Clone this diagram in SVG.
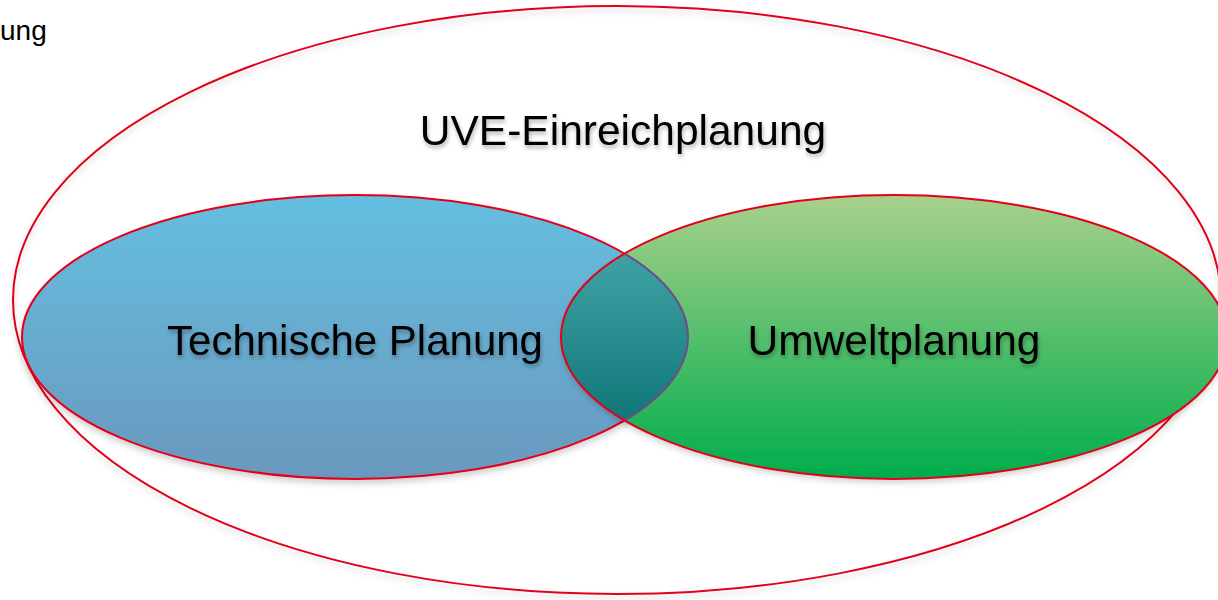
<svg xmlns="http://www.w3.org/2000/svg" width="1218" height="600" viewBox="0 0 1218 600">
<style>
.lbl{font-family:"Liberation Sans",Arial,sans-serif;fill:#000;filter:url(#tsh)}
.red{fill:none;stroke:#E2001A;stroke-width:2}
</style>
<defs>
<linearGradient id="gBlue" x1="0" y1="0" x2="0" y2="1"><stop offset="0" stop-color="#64BFE0"/><stop offset="1" stop-color="#6A98BE"/></linearGradient>
<linearGradient id="gGreen" x1="0" y1="0" x2="0" y2="1"><stop offset="0" stop-color="#A9D08C"/><stop offset="1" stop-color="#00AD4C"/></linearGradient>
<linearGradient id="gMix" gradientUnits="userSpaceOnUse" x1="0" y1="252" x2="0" y2="422"><stop offset="0" stop-color="#40A2A6"/><stop offset="1" stop-color="#107676"/></linearGradient>
<filter id="sh" x="-5%" y="-5%" width="110%" height="115%"><feDropShadow dx="0" dy="4" stdDeviation="3" flood-color="#000" flood-opacity="0.18"/></filter>
<filter id="tsh" x="-5%" y="-20%" width="110%" height="150%"><feDropShadow dx="1" dy="3" stdDeviation="2" flood-color="#000" flood-opacity="0.3"/></filter>
<clipPath id="cBlue"><ellipse cx="355" cy="337" rx="333" ry="142"/></clipPath>
<clipPath id="cGreen"><ellipse cx="894" cy="337" rx="333" ry="142"/></clipPath>
</defs>
<g id="outer">
<ellipse cx="617" cy="300" rx="604" ry="294" class="red" filter="url(#sh)"/>
</g>
<g id="technische">
<ellipse cx="355" cy="337" rx="333" ry="142" fill="url(#gBlue)" stroke="#E2001A" stroke-width="2" filter="url(#sh)"/>
</g>
<g id="umwelt">
<ellipse cx="894" cy="337" rx="333" ry="142" fill="url(#gGreen)" filter="url(#sh)"/>
</g>
<g id="overlap">
<ellipse cx="894" cy="337" rx="333" ry="142" fill="url(#gMix)" clip-path="url(#cBlue)"/>
<ellipse cx="355" cy="337" rx="333" ry="142" fill="none" stroke="#6E4F85" stroke-width="2" clip-path="url(#cGreen)"/>
<ellipse cx="894" cy="337" rx="333" ry="142" class="red"/>
</g>
<g id="labels">
<text class="lbl" x="0" y="40" font-size="28" style="filter:none">ung</text>
<text class="lbl" x="623" y="145" font-size="42.5" text-anchor="middle">UVE-Einreichplanung</text>
<text class="lbl" x="355" y="355" font-size="42" text-anchor="middle">Technische Planung</text>
<text class="lbl" x="894" y="355" font-size="42.5" text-anchor="middle">Umweltplanung</text>
</g>
</svg>
